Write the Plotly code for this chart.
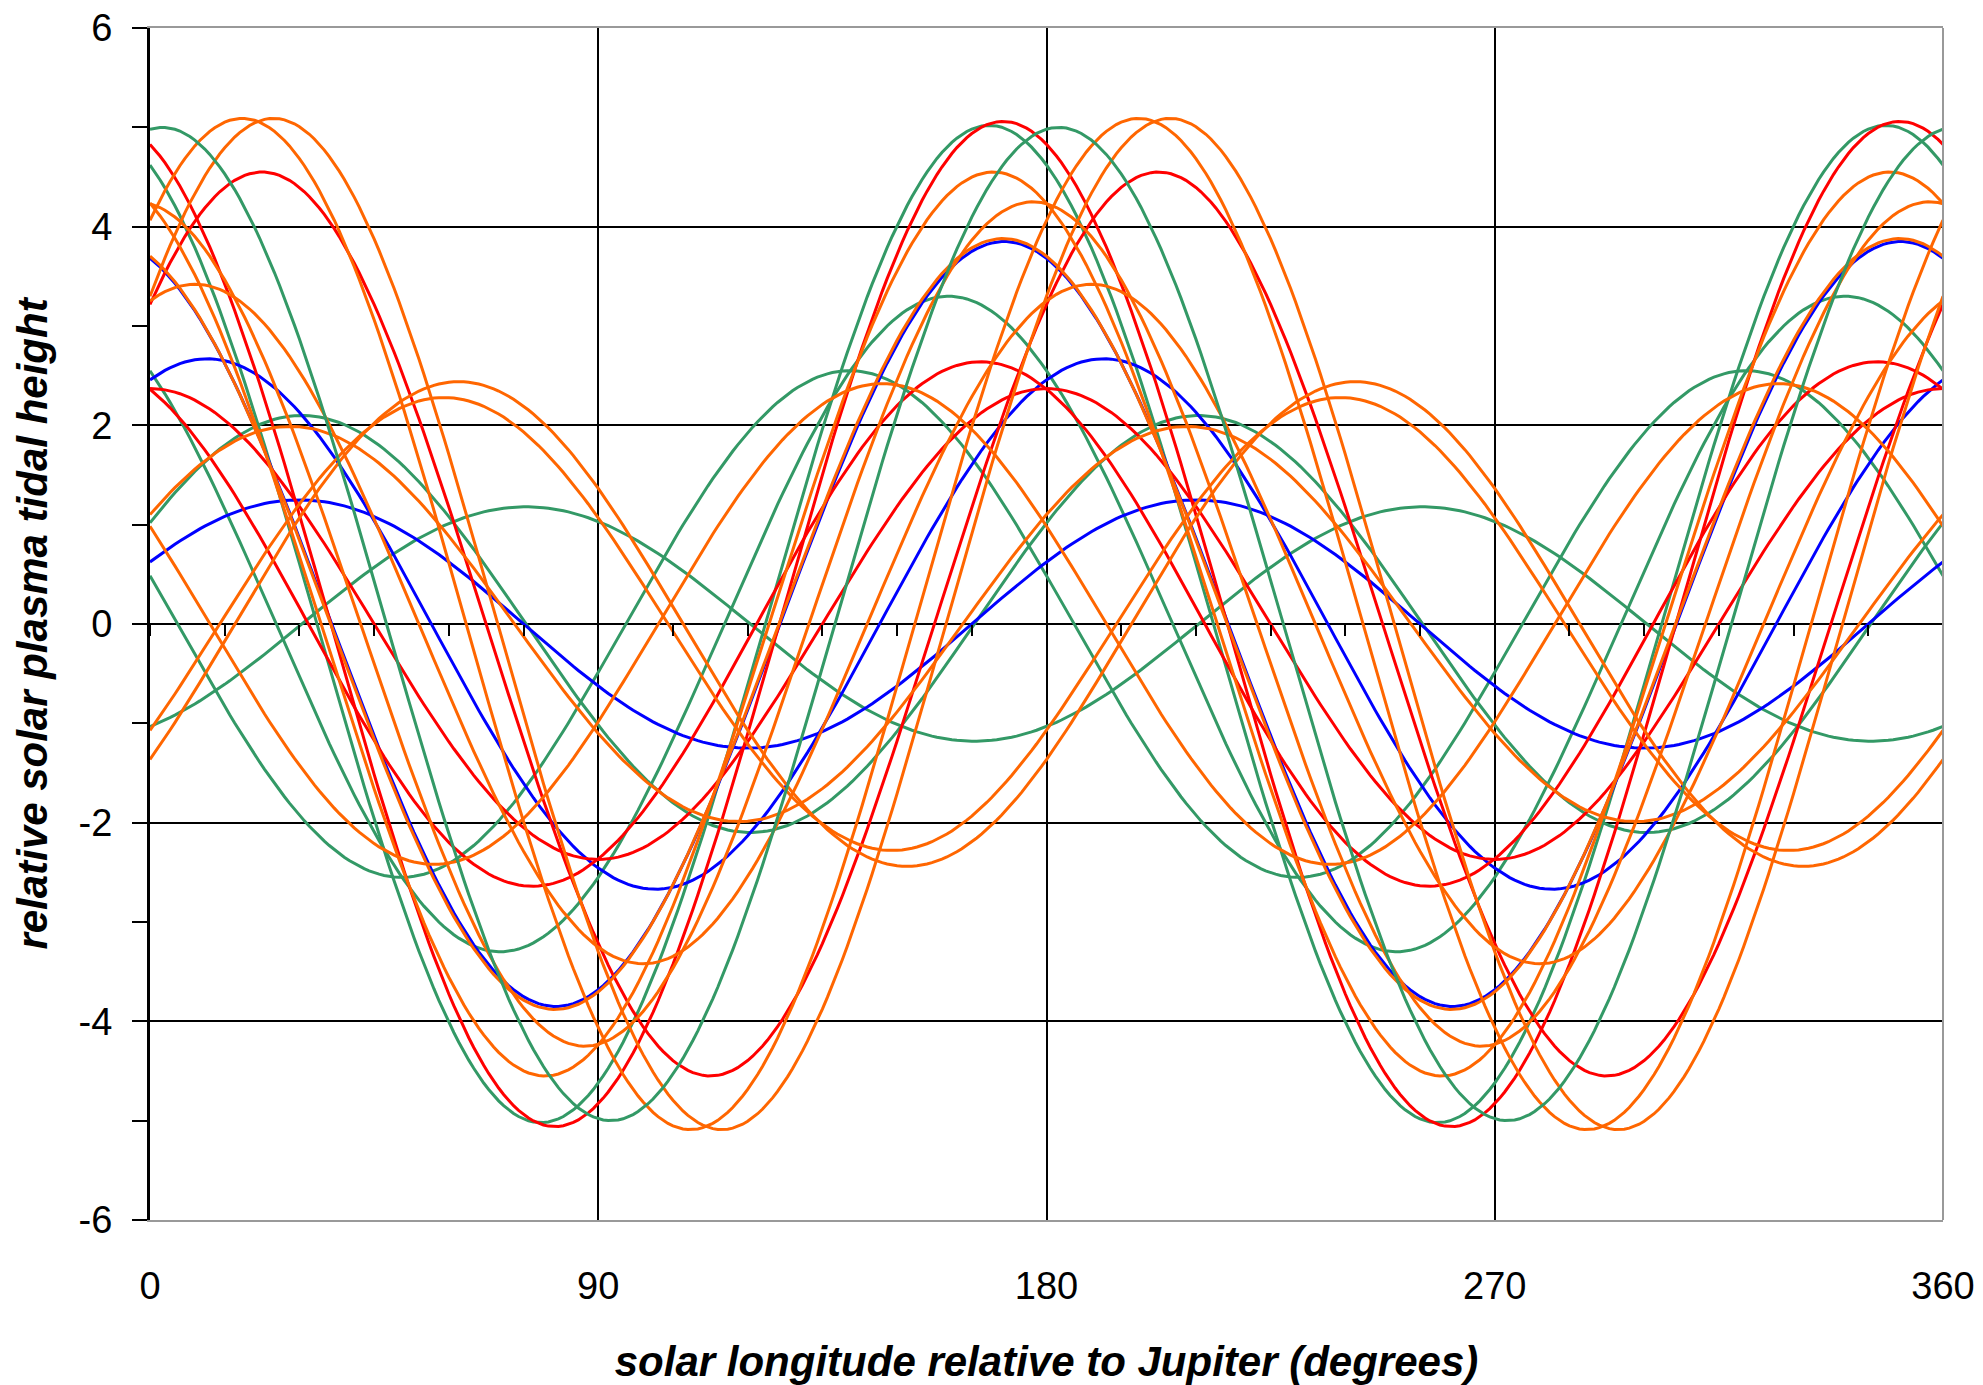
import numpy as np
import plotly.graph_objects as go

# Each curve in the reference is a semidiurnal-type tidal wave (period 180 deg).
# Values: colour, amplitude (peak height) and longitude of the first peak.
curve_colors = ["green", "green", "green", "green", "green", "green",
                "blue", "blue", "blue",
                "red", "red", "red", "red",
                "orange", "orange", "orange", "orange", "orange",
                "orange", "orange", "orange", "orange", "orange"]
amplitudes = [5.00, 5.02, 3.30, 2.55, 2.10, 1.18,
              3.85, 2.67, 1.25,
              5.06, 4.55, 2.64, 2.37,
              5.09, 5.09, 4.55, 4.25, 3.88,
              3.42, 1.99, 2.42, 2.44, 2.28]
peak_longitudes = [2.5, 168.5, 160.3, 140.5, 30.5, 75.5,
                   171.5, 11.5, 30.0,
                   171.3, 22.5, 166.8, 0.0,
                   18.5, 24.8, 169.3, 177.3, 171.3,
                   9.0, 28.2, 147.0, 62.0, 59.0]

x_tick_labels = ["0", "90", "180", "270", "360"]
y_tick_labels = ["-6", "-4", "-2", "0", "2", "4", "6"]

palette = {"green": "#339966", "blue": "#0000FF", "red": "#FF0000", "orange": "#FF6600"}

longitude = np.arange(0, 360.5, 1.0)

fig = go.Figure()
for i, (c, a, p) in enumerate(zip(curve_colors, amplitudes, peak_longitudes)):
    height = a * np.cos(np.radians(2.0 * (longitude - p)))
    fig.add_trace(go.Scatter(
        x=longitude, y=height, mode="lines",
        line=dict(color=palette[c], width=3),
        xaxis="x2" if i == 0 else "x",
        showlegend=False, hoverinfo="skip"))

tick_font = dict(family="Liberation Sans, Arial, sans-serif", size=38, color="#000")
title_font = dict(family="Liberation Sans, Arial, sans-serif", size=42, color="#000",
                  weight="bold", style="italic")

fig.update_layout(
    width=1975, height=1377,
    margin=dict(l=142, r=40, t=20, b=165, autoexpand=False),
    paper_bgcolor="white", plot_bgcolor="white",
    xaxis=dict(
        range=[0, 360], tickmode="array", tickvals=[0, 90, 180, 270, 360],
        ticktext=x_tick_labels, showgrid=True, gridcolor="#000", gridwidth=1.8,
        ticks="", tickfont=tick_font, ticklabelstandoff=31, ticklabeloverflow="allow",
        showline=True, linecolor="#999", linewidth=2, mirror=True,
        zeroline=False, automargin=False,
        title=dict(text="solar longitude relative to Jupiter (degrees)",
                   font=title_font, standoff=41),
    ),
    xaxis2=dict(
        range=[0, 360], overlaying="x", anchor="free", position=0.5, side="bottom",
        dtick=15, tick0=0, ticks="outside", ticklen=11, tickwidth=2, tickcolor="#000",
        showticklabels=False, showgrid=False, showline=False, zeroline=False,
        automargin=False,
    ),
    yaxis=dict(
        range=[-6, 6], tickmode="array", tickvals=[-6, -4, -2, 0, 2, 4, 6],
        ticktext=y_tick_labels, showgrid=True, gridcolor="#000", gridwidth=1.8,
        ticks="outside", ticklen=15, tickwidth=2, tickcolor="#000",
        minor=dict(dtick=1, tick0=0, ticks="outside", ticklen=15, tickwidth=2,
                   tickcolor="#000", showgrid=False),
        tickfont=tick_font, ticklabelstandoff=12, ticklabeloverflow="allow",
        showline=True, linecolor="#000", linewidth=3,
        zeroline=True, zerolinecolor="#000", zerolinewidth=2.2, automargin=False,
        title=dict(text="relative solar plasma tidal height", font=title_font, standoff=18),
    ),
    shapes=[dict(type="line", xref="paper", yref="paper", x0=1, x1=1, y0=0, y1=1,
                 line=dict(color="#999", width=2))],
)

fig.write_html("out.html")
